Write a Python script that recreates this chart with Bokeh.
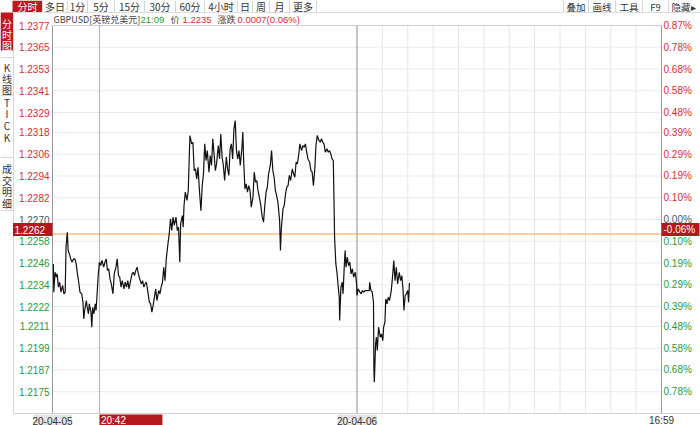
from bokeh.plotting import figure
from bokeh.models import Range1d
from bokeh.core.properties import value
from bokeh.embed import file_html
from bokeh.resources import INLINE

# ---- data: GBPUSD intraday, minutes since session open / price ----
minutes = [
    2, 3, 6, 9, 11, 14, 17, 20, 24, 27,
    30, 32, 35, 37, 40, 43, 46, 50, 53, 56,
    59, 62, 65, 69, 72, 74, 76, 80, 82, 85,
    87, 91, 93, 95, 98, 101, 103, 106, 108, 111,
    114, 117, 121, 124, 127, 130, 133, 136, 139, 143,
    146, 150, 153, 156, 159, 162, 165, 169, 172, 175,
    178, 181, 184, 188, 191, 194, 197, 200, 203, 206,
    210, 213, 216, 219, 222, 225, 229, 232, 235, 238,
    241, 244, 247, 251, 254, 257, 260, 263, 266, 269,
    273, 276, 279, 282, 285, 288, 292, 295, 298, 301,
    303, 307, 309, 311, 314, 318, 321, 323, 325, 329,
    332, 335, 338, 341, 344, 348, 351, 354, 357, 360,
    363, 366, 370, 373, 376, 379, 382, 385, 388, 392,
    395, 398, 401, 404, 407, 411, 414, 417, 420, 423,
    426, 429, 432, 435, 438, 441, 444, 448, 450, 452,
    455, 458, 461, 464, 467, 470, 474, 477, 480, 483,
    486, 489, 492, 496, 499, 502, 505, 508, 511, 515,
    518, 521, 524, 527, 530, 533, 537, 539, 541, 545,
    548, 551, 554, 557, 560, 563, 567, 570, 573, 576,
    579, 582, 585, 589, 592, 595, 598, 601, 604, 608,
    611, 614, 617, 620, 623, 626, 630, 633, 636, 639,
    642, 645, 649, 652, 655, 658, 661, 664, 666, 667,
    670, 673, 675, 678, 679, 682, 685, 687, 690, 692,
    694, 697, 700, 703, 706, 709, 712, 716, 719, 720,
    723, 727, 730, 733, 736, 739, 742, 745, 749, 750,
    753, 756, 759, 760, 761, 764, 766, 768, 771, 775,
    778, 781, 783, 786, 788, 791, 794, 797, 801, 804,
    807, 810, 813, 816, 820, 823, 826, 829, 831, 834,
    837, 840, 842, 844,
]
prices = [
    1.22455, 1.22299, 1.22409, 1.22382, 1.22400, 1.22327, 1.22354, 1.22299, 1.22336, 1.22290,
    1.22299, 1.22547, 1.22630, 1.22529, 1.22510, 1.22483, 1.22465, 1.22483, 1.22483, 1.22455,
    1.22400, 1.22354, 1.22299, 1.22290, 1.22244, 1.22152, 1.22198, 1.22253, 1.22216, 1.22180,
    1.22235, 1.22189, 1.22106, 1.22216, 1.22180, 1.22235, 1.22198, 1.22308, 1.22391, 1.22465,
    1.22446, 1.22474, 1.22437, 1.22465, 1.22483, 1.22419, 1.22428, 1.22373, 1.22345, 1.22290,
    1.22400, 1.22437, 1.22483, 1.22391, 1.22382, 1.22327, 1.22363, 1.22317, 1.22354, 1.22327,
    1.22363, 1.22317, 1.22354, 1.22400, 1.22409, 1.22391, 1.22419, 1.22437, 1.22400, 1.22373,
    1.22345, 1.22363, 1.22327, 1.22345, 1.22354, 1.22308, 1.22244, 1.22235, 1.22189, 1.22226,
    1.22272, 1.22317, 1.22253, 1.22308, 1.22290, 1.22327, 1.22354, 1.22437, 1.22363, 1.22483,
    1.22566, 1.22621, 1.22704, 1.22639, 1.22713, 1.22667, 1.22713, 1.22639, 1.22658, 1.22465,
    1.22676, 1.22722, 1.22658, 1.22777, 1.22851, 1.22805, 1.22860, 1.23016, 1.23163, 1.23117,
    1.23126, 1.22970, 1.22979, 1.22924, 1.22988, 1.22841, 1.22749, 1.22887, 1.22952, 1.23117,
    1.23025, 1.23080, 1.22961, 1.23053, 1.22998, 1.23145, 1.23062, 1.22970, 1.23007, 1.23108,
    1.23034, 1.23172, 1.23044, 1.22998, 1.22915, 1.23044, 1.22979, 1.22943, 1.23090, 1.23117,
    1.23034, 1.23200, 1.23246, 1.23080, 1.23034, 1.23080, 1.22998, 1.23099, 1.23182, 1.23025,
    1.22869, 1.22897, 1.22851, 1.22887, 1.22860, 1.22768, 1.22823, 1.22961, 1.22906, 1.22915,
    1.22860, 1.22823, 1.22786, 1.22713, 1.22685, 1.22777, 1.22851, 1.22878, 1.22952, 1.22998,
    1.23080, 1.22970, 1.22933, 1.22860, 1.22832, 1.22795, 1.22694, 1.22529, 1.22648, 1.22759,
    1.22777, 1.22841, 1.22878, 1.22887, 1.22943, 1.22915, 1.22979, 1.22952, 1.22933, 1.23016,
    1.23007, 1.23053, 1.23117, 1.23080, 1.23108, 1.23099, 1.23117, 1.23071, 1.23034, 1.23016,
    1.22970, 1.22961, 1.22887, 1.22970, 1.23108, 1.23163, 1.23136, 1.23126, 1.23145, 1.23126,
    1.23117, 1.23071, 1.23090, 1.23071, 1.23080, 1.23062, 1.23034, 1.23025, 1.22749, 1.22602,
    1.22455, 1.22400, 1.22345, 1.22272, 1.22143, 1.22327, 1.22354, 1.22290, 1.22446, 1.22529,
    1.22437, 1.22492, 1.22446, 1.22465, 1.22400, 1.22428, 1.22382, 1.22409, 1.22345, 1.22281,
    1.22317, 1.22299, 1.22290, 1.22308, 1.22299, 1.22308, 1.22308, 1.22308, 1.22308, 1.22354,
    1.22308, 1.22299, 1.22244, 1.21867, 1.21803, 1.22014, 1.22051, 1.21977, 1.22106, 1.22051,
    1.22069, 1.22032, 1.22106, 1.22134, 1.22262, 1.22235, 1.22272, 1.22253, 1.22308, 1.22382,
    1.22474, 1.22363, 1.22437, 1.22345, 1.22409, 1.22363, 1.22391, 1.22308, 1.22198, 1.22281,
    1.22290, 1.22308, 1.22244, 1.2235,
]

prev_close = 1.2270
price_ticks = [1.2377, 1.2365, 1.2353, 1.2341, 1.2329, 1.2318, 1.2306, 1.2294, 1.2282,
               1.2270, 1.2258, 1.2246, 1.2234, 1.2222, 1.2211, 1.2199, 1.2187, 1.2175]
pct_labels = ["0.87%", "0.78%", "0.68%", "0.58%", "0.48%", "0.39%", "0.29%", "0.19%", "0.10%",
              "0.00%", "0.10%", "0.19%", "0.29%", "0.39%", "0.48%", "0.58%", "0.68%", "0.78%"]
day_starts = [0, 720]
day_labels = ["20-04-05", "20-04-06"]
hour_marks = [780, 840, 900, 960, 1020, 1080, 1140, 1200, 1260, 1320, 1380]
session_len = 1440
end_label = "16:59"

cross_t, cross_label = 111, "20:42"
cross_price, cross_pct = 1.2262, "-0.06%"

symbol_name = "GBPUSD[英镑兑美元]"
quote_time, last_price, change_text = "21:09", 1.2235, "0.0007(0.06%)"

tabs = ["分时", "多日", "1分", "5分", "15分", "30分", "60分", "4小时", "日", "周", "月", "更多"]
tools = ["叠加", "画线", "工具", "F9", "隐藏▸"]
side_tabs = [["分", "时", "图"], ["K", "线", "图"], ["T", "I", "C", "K"], ["成", "交", "明", "细"]]

# ---- layout ----
W, H = 700, 425
L, R, T, B = 52, 661, 25, 413          # price frame inside the canvas
y_top, y_bot = 1.2377, 1.2163
xs = session_len / (R - L)
ys = (y_top - y_bot) / (B - T)

RED, GREEN, NEUTRAL = "#dc2a31", "#1f9a3a", "#4d5563"
TAB_RED = "#c0161d"
ORANGE = "#f6a04a"
NUM_FONT = value("Liberation Sans")
CJK_FONT = value("Noto Sans CJK SC")

p = figure(width=W, height=H,
           x_range=Range1d(-L * xs, session_len + (W - R) * xs),
           y_range=Range1d(y_bot - (H - B) * ys, y_top + T * ys),
           min_border=0, toolbar_location=None, output_backend="svg",
           x_axis_location=None, y_axis_location=None,
           outline_line_color=None, background_fill_color="white")
p.grid.visible = False
p.extra_x_ranges = {"px": Range1d(0, W)}
p.extra_y_ranges = {"px": Range1d(H, 0)}
PX = dict(x_range_name="px", y_range_name="px")

# grid
p.segment(x0=0, x1=session_len, y0=price_ticks, y1=price_ticks, line_color="#ebebeb", line_width=1)
p.segment(x0=hour_marks, x1=hour_marks, y0=y_bot, y1=y_top, line_color="#e6e6e6", line_width=1)
p.segment(x0=day_starts[1], x1=day_starts[1], y0=y_bot, y1=y_top, line_color="#8a8a8a", line_width=1)

# frame
p.segment(x0=[0, session_len], x1=[0, session_len], y0=y_bot, y1=y_top, line_color="#9a9a9a", line_width=1)
p.segment(x0=0, x1=session_len, y0=y_top, y1=y_top, line_color="#cfcfcf", line_width=1)
p.segment(x0=[13], x1=[W], y0=[B], y1=[B], line_color="#d2d2d2", line_width=1, **PX)
p.segment(x0=[13], x1=[13], y0=[12], y1=[B], line_color="#d8d8d8", line_width=1, **PX)

# crosshair
p.segment(x0=0, x1=session_len, y0=cross_price, y1=cross_price, line_color=ORANGE, line_width=1)
p.segment(x0=cross_t, x1=cross_t, y0=y_bot, y1=y_top, line_color=ORANGE, line_width=1)

# price line
p.line(minutes, prices, line_color="#111111", line_width=1.2)

# price / percent labels
lab_colors = [RED if v > prev_close + 1e-9 else GREEN if v < prev_close - 1e-9 else NEUTRAL for v in price_ticks]
p.text(x=[L - 3] * len(price_ticks), y=price_ticks, text=[f"{v:.4f}" for v in price_ticks],
       text_color=lab_colors, text_font=NUM_FONT, text_font_size="10px",
       text_align="right", text_baseline="middle", x_range_name="px")
p.text(x=[R + 2] * len(price_ticks), y=price_ticks, text=pct_labels,
       text_color=lab_colors, text_font=NUM_FONT, text_font_size="10px",
       text_align="left", text_baseline="middle", x_range_name="px")

# crosshair value boxes
box_y = cross_price + 4.5 * ys
p.quad(left=[12.5], right=[L], top=[box_y + 6.5 * ys], bottom=[box_y - 6.5 * ys],
       fill_color="#b3191c", line_color=None, x_range_name="px")
p.text(x=[14], y=[box_y], text=[f"{cross_price:.4f}"], text_color="white", text_font=NUM_FONT,
       text_font_size="10px", text_align="left", text_baseline="middle", x_range_name="px")
p.quad(left=[R], right=[W - 1], top=[box_y + 6.5 * ys], bottom=[box_y - 6.5 * ys],
       fill_color="#b3191c", line_color=None, x_range_name="px")
p.text(x=[R + 2], y=[box_y], text=[cross_pct], text_color="white", text_font=NUM_FONT,
       text_font_size="10px", text_align="left", text_baseline="middle", x_range_name="px")

# time axis labels
p.rect(x=day_starts, y=[419.5] * 2, width=39, height=11, width_units="screen", height_units="screen",
       fill_color="#e4e4e4", line_color=None, y_range_name="px")
p.text(x=day_starts, y=[420] * 2, text=day_labels, text_color="#333333", text_font=NUM_FONT,
       text_font_size="10px", text_align="center", text_baseline="middle", y_range_name="px")
p.rect(x=[cross_t + 31.5 * xs], y=[419.5], width=63, height=11, width_units="screen", height_units="screen",
       fill_color="#b3191c", line_color=None, y_range_name="px")
p.text(x=[cross_t + 1.5 * xs], y=[420], text=[cross_label], text_color="white", text_font=NUM_FONT,
       text_font_size="10px", text_align="left", text_baseline="middle", y_range_name="px")
p.text(x=[session_len], y=[420], text=[end_label], text_color="#333333", text_font=NUM_FONT,
       text_font_size="10px", text_align="center", text_baseline="middle", y_range_name="px")

# top tab bar
tab_edges = [12, 42, 67, 87, 114, 144, 175, 204, 237, 252, 269, 289, 316]
p.quad(left=[tab_edges[0]], right=[tab_edges[1]], top=[0], bottom=[11.5], fill_color=TAB_RED, line_color=None, **PX)
p.segment(x0=tab_edges[1:], x1=tab_edges[1:], y0=[0] * 12, y1=[11.5] * 12, line_color="#d6d6d6", **PX)
tab_cx = [(a + b) / 2 for a, b in zip(tab_edges[:-1], tab_edges[1:])]
p.text(x=tab_cx, y=[6] * len(tabs), text=tabs, text_color=["white"] + ["#333333"] * (len(tabs) - 1),
       text_font=CJK_FONT, text_font_size="10px", text_align="center", text_baseline="middle", **PX)

tool_edges = [563, 588, 615, 642, 668, 700]
p.segment(x0=tool_edges[:-1], x1=tool_edges[:-1], y0=[0] * 5, y1=[11.5] * 5, line_color="#d6d6d6", **PX)
tool_cx = [(a + b) / 2 for a, b in zip(tool_edges[:-1], tool_edges[1:])]
tool_cx[-1] -= 1
p.text(x=tool_cx, y=[6] * len(tools), text=tools, text_color="#333333",
       text_font=CJK_FONT, text_font_size="9.5px", text_align="center", text_baseline="middle", **PX)
p.segment(x0=[12], x1=[W], y0=[12], y1=[12], line_color="#dcdcdc", **PX)

# quote header
p.text(x=[53, 170, 217], y=[19] * 3, text=[symbol_name, "价", "涨跌"], text_color="#444444",
       text_font=CJK_FONT, text_font_size="9px", text_align="left", text_baseline="middle", **PX)
p.text(x=[140, 182, 237], y=[19] * 3, text=[quote_time, f"{last_price:.4f}", change_text],
       text_color=[GREEN, RED, RED], text_font=NUM_FONT, text_font_size="9.5px",
       text_align="left", text_baseline="middle", **PX)

# left side tabs
p.quad(left=[0], right=[12.5], top=[12], bottom=[50], fill_color=TAB_RED, line_color=None, **PX)
side_y = [[23, 34, 45], [67, 78, 89], [102, 113, 125, 137], [168, 180, 191, 203]]
for i, (chars, ys_) in enumerate(zip(side_tabs, side_y)):
    p.text(x=[6.5] * len(chars), y=ys_, text=chars, text_color="white" if i == 0 else "#333333",
           text_font=CJK_FONT, text_font_size="10px", text_align="center", text_baseline="middle", **PX)
sep_y = [57, 95, 157, 210]
p.segment(x0=[0] * 4, x1=[13] * 4, y0=sep_y, y1=sep_y, line_color="#d6d6d6", **PX)

open("out.html", "w").write(file_html(p, INLINE))
